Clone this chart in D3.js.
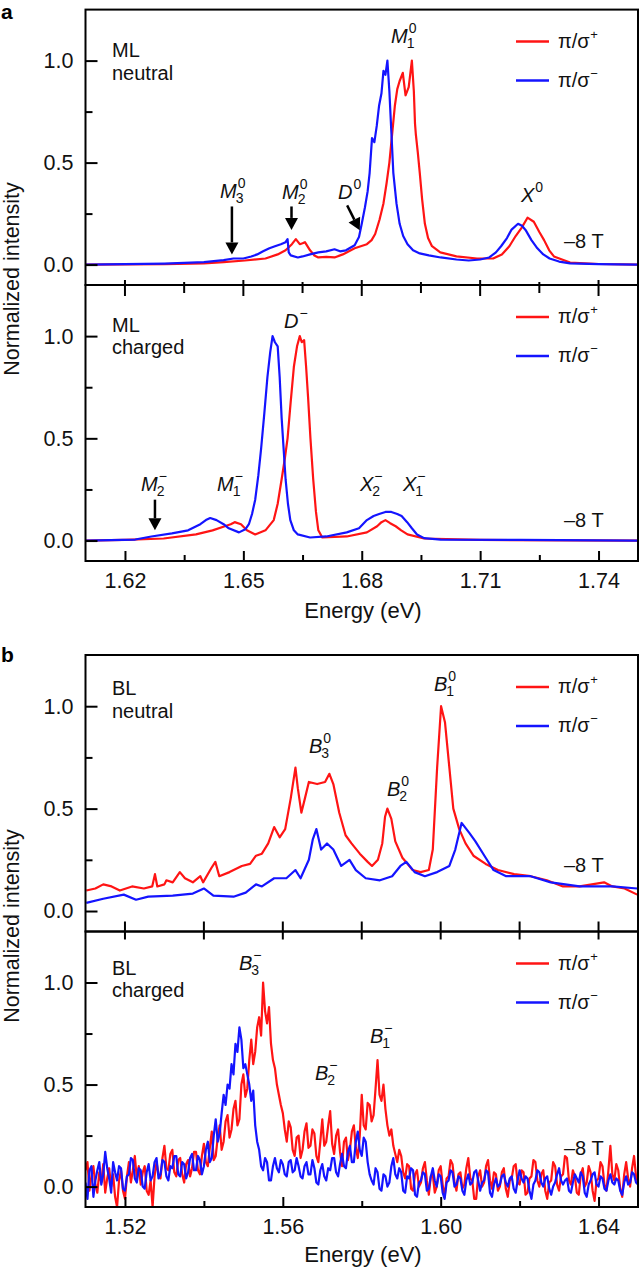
<!DOCTYPE html>
<html>
<head>
<meta charset="utf-8">
<script src="https://cdn.jsdelivr.net/npm/d3@7"></script>
<style>
  body { margin: 0; background: #fff; }
  svg { display: block; font-family: "Liberation Sans", Arial, Helvetica, sans-serif; }
</style>
</head>
<body>
<div id="chart"></div>
<script>
// ---- data: [energy (eV), normalized intensity] ----

// ML neutral
var mlNeutralPlus = [[1.610,0.0],[1.630,0.002],[1.640,0.006],[1.645,0.012],[1.6504,0.02],[1.6556,0.03],[1.6587,0.05],[1.6607,0.07],[1.6623,0.1],[1.6633,0.125],[1.6643,0.1],[1.6650,0.105],[1.6656,0.11],[1.6669,0.07],[1.668,0.045],[1.669,0.035],[1.671,0.038],[1.6731,0.035],[1.6752,0.05],[1.6782,0.08],[1.6813,0.1],[1.6825,0.12],[1.6834,0.15],[1.6845,0.22],[1.6855,0.3],[1.6863,0.4],[1.6870,0.5],[1.6877,0.64],[1.6884,0.78],[1.6890,0.86],[1.6896,0.9],[1.6904,0.94],[1.6911,0.83],[1.6919,0.87],[1.6927,1.0],[1.6932,0.85],[1.6935,0.69],[1.6937,0.64],[1.6942,0.55],[1.6947,0.45],[1.6953,0.32],[1.6960,0.2],[1.6968,0.13],[1.6978,0.09],[1.6999,0.06],[1.7040,0.04],[1.7092,0.03],[1.7133,0.03],[1.7155,0.05],[1.7174,0.09],[1.719,0.14],[1.7205,0.18],[1.7220,0.23],[1.7236,0.21],[1.7250,0.16],[1.7262,0.12],[1.7275,0.07],[1.7287,0.04],[1.7328,0.01],[1.740,0.003],[1.750,0.0]];
var mlNeutralMinus = [[1.610,0.0],[1.620,0.002],[1.630,0.005],[1.635,0.008],[1.640,0.012],[1.645,0.022],[1.6475,0.03],[1.650,0.03],[1.652,0.04],[1.6535,0.05],[1.655,0.065],[1.6566,0.08],[1.658,0.09],[1.6595,0.1],[1.6607,0.11],[1.6612,0.125],[1.6615,0.06],[1.662,0.045],[1.6638,0.035],[1.665,0.04],[1.6669,0.05],[1.669,0.06],[1.671,0.065],[1.6731,0.075],[1.6745,0.065],[1.676,0.07],[1.6782,0.095],[1.6793,0.135],[1.6800,0.2],[1.6808,0.28],[1.6815,0.36],[1.682,0.45],[1.6826,0.62],[1.6832,0.6],[1.6838,0.68],[1.6844,0.78],[1.685,0.84],[1.6855,0.95],[1.686,0.93],[1.6865,1.0],[1.687,0.85],[1.6875,0.65],[1.688,0.45],[1.6888,0.3],[1.6896,0.2],[1.6905,0.14],[1.6916,0.1],[1.693,0.07],[1.6947,0.055],[1.697,0.045],[1.700,0.035],[1.704,0.025],[1.7071,0.02],[1.710,0.025],[1.7123,0.035],[1.714,0.06],[1.7153,0.09],[1.7168,0.13],[1.7179,0.17],[1.7196,0.2],[1.7206,0.19],[1.7215,0.17],[1.7230,0.12],[1.7245,0.08],[1.726,0.05],[1.7276,0.03],[1.730,0.015],[1.7328,0.006],[1.740,0.002],[1.750,0.0]];

// ML charged
var mlChargedPlus = [[1.610,0.0],[1.620,0.003],[1.6298,0.01],[1.638,0.03],[1.6422,0.05],[1.6453,0.07],[1.6468,0.08],[1.6478,0.09],[1.6494,0.08],[1.6509,0.05],[1.6530,0.03],[1.6556,0.05],[1.6577,0.1],[1.6587,0.18],[1.6597,0.3],[1.6605,0.4],[1.6612,0.5],[1.6620,0.68],[1.6628,0.85],[1.6636,0.95],[1.6643,1.0],[1.6648,0.97],[1.6654,0.98],[1.6659,0.85],[1.6664,0.7],[1.6670,0.5],[1.6677,0.3],[1.6684,0.14],[1.6690,0.05],[1.6700,0.015],[1.6762,0.02],[1.6813,0.04],[1.6839,0.07],[1.6850,0.09],[1.6860,0.1],[1.6872,0.085],[1.6886,0.07],[1.6900,0.05],[1.6916,0.03],[1.6958,0.01],[1.710,0.003],[1.750,0.0]];
var mlChargedMinus = [[1.610,0.0],[1.6226,0.005],[1.6267,0.02],[1.6319,0.035],[1.636,0.05],[1.6391,0.08],[1.6405,0.1],[1.6416,0.11],[1.6432,0.1],[1.645,0.08],[1.6463,0.06],[1.6489,0.04],[1.6505,0.055],[1.6514,0.08],[1.6522,0.13],[1.6530,0.2],[1.6538,0.32],[1.6545,0.45],[1.6553,0.62],[1.6561,0.8],[1.6568,0.92],[1.6574,1.0],[1.6580,0.97],[1.6587,0.95],[1.6592,0.8],[1.6597,0.6],[1.6602,0.45],[1.6607,0.3],[1.6613,0.18],[1.6619,0.1],[1.6628,0.05],[1.6638,0.03],[1.6669,0.015],[1.6710,0.02],[1.6762,0.04],[1.6793,0.06],[1.6813,0.1],[1.6830,0.12],[1.6844,0.13],[1.6860,0.14],[1.6875,0.14],[1.6890,0.13],[1.6901,0.12],[1.6915,0.09],[1.6927,0.06],[1.6940,0.03],[1.6958,0.012],[1.700,0.005],[1.720,0.003],[1.750,0.0]];

// BL neutral
var blNeutralPlus = [[1.5102,0.1],[1.5125,0.11],[1.5145,0.13],[1.5166,0.12],[1.5187,0.1],[1.5218,0.12],[1.5248,0.11],[1.5269,0.12],[1.5276,0.18],[1.5282,0.12],[1.5300,0.13],[1.5305,0.15],[1.5321,0.14],[1.5339,0.19],[1.5352,0.16],[1.5372,0.14],[1.5391,0.17],[1.5398,0.14],[1.5419,0.21],[1.5429,0.24],[1.5439,0.17],[1.5465,0.19],[1.5496,0.22],[1.5517,0.23],[1.5532,0.27],[1.5547,0.28],[1.5563,0.33],[1.5578,0.41],[1.5592,0.36],[1.5606,0.4],[1.5620,0.55],[1.5632,0.70],[1.5638,0.6],[1.5647,0.48],[1.5656,0.55],[1.5666,0.63],[1.5687,0.62],[1.5707,0.63],[1.5718,0.67],[1.5728,0.62],[1.5743,0.48],[1.5759,0.37],[1.5774,0.33],[1.5795,0.28],[1.5815,0.24],[1.5826,0.22],[1.5841,0.25],[1.5852,0.33],[1.5859,0.46],[1.5865,0.5],[1.5875,0.45],[1.5885,0.34],[1.5903,0.26],[1.5929,0.2],[1.5949,0.19],[1.5970,0.2],[1.5980,0.3],[1.5991,0.7],[1.6001,1.0],[1.6011,0.92],[1.6022,0.7],[1.6032,0.5],[1.6047,0.4],[1.6063,0.33],[1.6083,0.27],[1.6114,0.23],[1.6145,0.2],[1.6186,0.18],[1.6228,0.17],[1.6269,0.15],[1.6310,0.12],[1.6352,0.12],[1.6414,0.14],[1.6435,0.12],[1.6466,0.11],[1.6498,0.08]];
var blNeutralMinus = [[1.5102,0.04],[1.5145,0.06],[1.5197,0.08],[1.5228,0.055],[1.5259,0.07],[1.5321,0.075],[1.5372,0.085],[1.5400,0.11],[1.5424,0.075],[1.5475,0.07],[1.5506,0.09],[1.5532,0.13],[1.5547,0.12],[1.5578,0.16],[1.5609,0.16],[1.5632,0.2],[1.5645,0.16],[1.5666,0.25],[1.5676,0.35],[1.5685,0.4],[1.5697,0.3],[1.5712,0.33],[1.5728,0.3],[1.5748,0.22],[1.5769,0.25],[1.5785,0.2],[1.5810,0.16],[1.5846,0.15],[1.5877,0.17],[1.5898,0.22],[1.5913,0.24],[1.5934,0.19],[1.5960,0.17],[1.5991,0.19],[1.6022,0.22],[1.6037,0.3],[1.6053,0.43],[1.6073,0.38],[1.6088,0.34],[1.6114,0.26],[1.6134,0.2],[1.6166,0.17],[1.6228,0.17],[1.6279,0.14],[1.6352,0.12],[1.6435,0.12],[1.6498,0.11]];

// BL charged (noisy, 0.5 meV sampling)
var blChargedEnergy = [
  1.5100,1.5105,1.5110,1.5115,1.5120,1.5125,1.5130,1.5135,1.5140,1.5145,
  1.5150,1.5155,1.5160,1.5165,1.5170,1.5175,1.5180,1.5185,1.5190,1.5195,
  1.5200,1.5205,1.5210,1.5215,1.5220,1.5225,1.5230,1.5235,1.5240,1.5245,
  1.5250,1.5255,1.5260,1.5265,1.5270,1.5275,1.5280,1.5285,1.5290,1.5295,
  1.5300,1.5305,1.5310,1.5315,1.5320,1.5325,1.5330,1.5335,1.5340,1.5345,
  1.5350,1.5355,1.5360,1.5365,1.5370,1.5375,1.5380,1.5385,1.5390,1.5395,
  1.5400,1.5405,1.5410,1.5415,1.5420,1.5425,1.5430,1.5435,1.5440,1.5445,
  1.5450,1.5455,1.5460,1.5465,1.5470,1.5475,1.5480,1.5485,1.5490,1.5495,
  1.5500,1.5505,1.5510,1.5515,1.5520,1.5525,1.5530,1.5535,1.5540,1.5545,
  1.5550,1.5555,1.5560,1.5565,1.5570,1.5575,1.5580,1.5585,1.5590,1.5595,
  1.5600,1.5605,1.5610,1.5615,1.5620,1.5625,1.5630,1.5635,1.5640,1.5645,
  1.5650,1.5655,1.5660,1.5665,1.5670,1.5675,1.5680,1.5685,1.5690,1.5695,
  1.5700,1.5705,1.5710,1.5715,1.5720,1.5725,1.5730,1.5735,1.5740,1.5745,
  1.5750,1.5755,1.5760,1.5765,1.5770,1.5775,1.5780,1.5785,1.5790,1.5795,
  1.5800,1.5805,1.5810,1.5815,1.5820,1.5825,1.5830,1.5835,1.5840,1.5845,
  1.5850,1.5855,1.5860,1.5865,1.5870,1.5875,1.5880,1.5885,1.5890,1.5895,
  1.5900,1.5905,1.5910,1.5915,1.5920,1.5925,1.5930,1.5935,1.5940,1.5945,
  1.5950,1.5955,1.5960,1.5965,1.5970,1.5975,1.5980,1.5985,1.5990,1.5995,
  1.6000,1.6005,1.6010,1.6015,1.6020,1.6025,1.6030,1.6035,1.6040,1.6045,
  1.6050,1.6055,1.6060,1.6065,1.6070,1.6075,1.6080,1.6085,1.6090,1.6095,
  1.6100,1.6105,1.6110,1.6115,1.6120,1.6125,1.6130,1.6135,1.6140,1.6145,
  1.6150,1.6155,1.6160,1.6165,1.6170,1.6175,1.6180,1.6185,1.6190,1.6195,
  1.6200,1.6205,1.6210,1.6215,1.6220,1.6225,1.6230,1.6235,1.6240,1.6245,
  1.6250,1.6255,1.6260,1.6265,1.6270,1.6275,1.6280,1.6285,1.6290,1.6295,
  1.6300,1.6305,1.6310,1.6315,1.6320,1.6325,1.6330,1.6335,1.6340,1.6345,
  1.6350,1.6355,1.6360,1.6365,1.6370,1.6375,1.6380,1.6385,1.6390,1.6395,
  1.6400,1.6405,1.6410,1.6415,1.6420,1.6425,1.6430,1.6435,1.6440,1.6445,
  1.6450,1.6455,1.6460,1.6465,1.6470,1.6475,1.6480,1.6485,1.6490,1.6495,
  1.6500];
var blChargedPlus = [
  0.08,0.12,-0.02,0.05,0.10,0.01,-0.03,0.07,0.02,0.11,
  -0.03,0.04,0.09,0.00,0.06,-0.05,-0.10,0.03,0.08,-0.02,
  -0.06,0.05,0.12,0.02,0.08,0.15,0.04,0.10,0.01,0.07,
  0.10,-0.02,-0.04,0.03,-0.10,0.05,0.12,0.06,0.04,0.14,
  0.20,0.09,0.08,0.16,0.18,0.07,0.05,0.13,0.14,0.06,
  0.02,0.11,0.13,0.05,0.09,0.17,0.17,0.08,0.06,0.15,
  0.21,0.12,0.10,0.19,0.27,0.13,0.15,0.24,0.30,0.18,
  0.22,0.32,0.35,0.24,0.28,0.38,0.42,0.30,0.33,0.50,
  0.55,0.44,0.48,0.62,0.72,0.60,0.66,0.78,0.83,0.74,
  1.00,0.86,0.80,0.88,0.70,0.62,0.58,0.50,0.45,0.40,
  0.36,0.28,0.22,0.32,0.29,0.18,0.15,0.24,0.25,0.14,
  0.18,0.27,0.31,0.19,0.20,0.28,0.26,0.15,0.12,0.22,
  0.33,0.20,0.22,0.30,0.37,0.21,0.16,0.25,0.28,0.17,
  0.10,0.22,0.24,0.13,0.18,0.27,0.30,0.19,0.14,0.25,
  0.45,0.30,0.28,0.41,0.40,0.32,0.35,0.48,0.62,0.45,
  0.42,0.50,0.38,0.30,0.25,0.28,0.20,0.16,0.12,0.18,
  0.15,0.07,0.04,0.11,0.10,-0.01,-0.02,0.06,0.08,0.00,
  0.02,0.09,0.12,0.03,-0.04,0.05,0.06,-0.03,0.00,0.08,
  0.10,0.01,-0.05,0.04,0.05,0.13,0.11,0.02,-0.02,0.06,
  0.07,-0.01,0.01,0.09,0.14,0.04,0.03,-0.06,-0.06,0.05,
  0.08,0.00,0.02,0.10,0.13,0.03,-0.01,0.07,0.06,-0.02,
  0.00,0.07,0.09,-0.01,-0.05,0.03,0.04,0.10,0.11,0.02,
  0.01,0.08,0.07,-0.04,-0.03,0.04,0.05,0.13,0.12,0.03,
  0.00,0.06,0.08,-0.02,-0.06,0.02,0.03,0.12,0.10,0.01,
  -0.02,0.05,0.06,0.15,0.14,0.03,0.01,0.08,0.05,-0.03,
  -0.04,0.06,0.09,0.00,0.02,0.10,0.07,-0.02,-0.07,0.03,
  0.04,0.12,0.10,0.01,-0.02,0.08,0.20,0.06,0.03,0.11,
  0.08,-0.01,-0.05,0.06,0.12,0.04,0.00,0.09,0.15,0.05,
  0.02];
var blChargedMinus = [
  0.02,-0.06,0.08,0.10,-0.05,0.03,0.08,0.12,0.01,0.06,
  0.17,0.09,0.04,-0.03,0.12,0.07,0.03,0.10,0.09,-0.01,
  -0.02,0.05,0.06,0.14,0.13,0.04,0.02,0.09,0.08,0.00,
  -0.01,0.07,0.11,0.03,0.05,0.12,0.14,0.04,0.06,0.13,
  0.12,0.05,0.03,0.10,0.09,0.15,0.15,0.06,0.05,0.12,
  0.11,0.04,0.07,0.14,0.16,0.08,0.08,0.15,0.13,0.06,
  0.10,0.18,0.22,0.12,0.14,0.25,0.33,0.22,0.26,0.36,
  0.45,0.40,0.50,0.48,0.60,0.55,0.70,0.66,0.78,0.72,
  0.58,0.60,0.55,0.50,0.42,0.47,0.30,0.22,0.18,0.10,
  0.08,0.14,0.12,0.03,0.03,0.10,0.14,0.09,0.07,0.13,
  0.11,0.06,0.05,0.12,0.13,0.07,0.08,0.14,0.10,0.05,
  0.04,0.10,0.12,0.06,0.06,0.13,0.09,0.02,0.01,0.08,
  0.11,0.05,0.03,0.09,0.08,0.14,0.14,0.07,0.05,0.11,
  0.16,0.10,0.09,0.17,0.20,0.12,0.12,0.22,0.27,0.18,
  0.15,0.24,0.22,0.12,0.06,0.03,0.01,0.09,0.07,-0.01,
  -0.02,0.06,0.05,0.00,0.02,0.10,0.14,0.06,0.04,0.09,
  0.07,-0.02,-0.03,0.05,0.04,0.09,0.08,-0.04,-0.05,0.02,
  0.03,0.07,0.06,-0.02,-0.01,0.05,0.09,0.03,0.00,0.06,
  0.05,-0.03,-0.06,0.02,0.03,0.08,0.07,0.00,0.01,0.05,
  0.04,-0.02,-0.04,0.03,0.06,0.01,0.02,0.07,0.08,0.03,
  -0.02,0.02,0.03,0.08,0.07,-0.03,-0.05,0.01,0.04,0.00,
  0.01,0.05,0.06,0.02,0.00,0.04,0.05,-0.01,-0.03,0.03,
  0.08,0.04,0.02,0.05,0.04,-0.02,-0.06,0.01,0.03,0.08,
  0.07,0.02,0.00,0.04,0.05,-0.01,-0.04,0.00,0.02,0.06,
  0.09,0.03,0.01,0.03,0.04,-0.02,-0.03,0.02,0.06,0.04,
  0.02,0.07,0.05,-0.03,-0.05,0.01,0.03,0.06,0.07,0.01,
  0.00,0.05,0.04,-0.01,-0.02,0.03,0.06,0.02,0.01,0.04,
  0.03,-0.02,-0.04,0.02,0.05,0.01,0.02,0.07,0.06,0.02,
  0.01];

// ticks
var mlEnergyTicks = [1.62, 1.65, 1.68, 1.71, 1.74];
var mlEnergyMinorTicks = [1.635, 1.665, 1.695, 1.725];
var blEnergyTicks = [1.52, 1.56, 1.60, 1.64];
var blEnergyMinorTicks = [1.54, 1.58, 1.62];
var intensityTicks = [0, 0.5, 1.0];
var intensityMinorTicks = [0.25, 0.75];
var legendSigns = ["+", "\u2212"];

var blChargedPlusPts = blChargedEnergy.map(function(e, i) { return [e, blChargedPlus[i]]; });
var blChargedMinusPts = blChargedEnergy.map(function(e, i) { return [e, blChargedMinus[i]]; });

// ---- layout ----
var W = 642, H = 1269;
var left = 85.5, right = 638;
var red = "#ff1414", blue = "#1414ff";

var svg = d3.select("#chart").append("svg")
  .attr("width", W)
  .attr("height", H)
  .style("background-color", "white");

var panels = [
  { id: "mln", top: 9.6, bottom: 285, xDomain: [1.61, 1.75], plus: mlNeutralPlus, minus: mlNeutralMinus,
    name: ["ML", "neutral"], nameY: [57, 80], fieldY: 248 },
  { id: "mlc", top: 285, bottom: 561, xDomain: [1.61, 1.75], plus: mlChargedPlus, minus: mlChargedMinus,
    name: ["ML", "charged"], nameY: [332, 354], fieldY: 527 },
  { id: "bln", top: 655, bottom: 931.5, xDomain: [1.51, 1.65], plus: blNeutralPlus, minus: blNeutralMinus,
    name: ["BL", "neutral"], nameY: [695, 718], fieldY: 872 },
  { id: "blc", top: 931.5, bottom: 1207, xDomain: [1.51, 1.65], plus: blChargedPlusPts, minus: blChargedMinusPts,
    name: ["BL", "charged"], nameY: [975, 997], fieldY: 1155 }
];

var scales = {};

function styleAxis(a) {
  a.select(".domain").remove();
  a.attr("font-size", 21.5).attr("font-family", null);
  a.selectAll("line").attr("stroke-width", 2);
  a.selectAll("text").attr("fill", "#111");
}

panels.forEach(function(p) {
  var x = d3.scaleLinear().domain(p.xDomain).range([left, right]);
  var y = d3.scaleLinear().domain([-0.1, 1.25]).range([p.bottom, p.top]);
  scales[p.id] = { x: x, y: y };

  svg.append("clipPath").attr("id", "clip-" + p.id)
    .append("rect")
    .attr("x", left).attr("y", p.top)
    .attr("width", right - left).attr("height", p.bottom - p.top);

  var line = d3.line()
    .x(function(d) { return x(d[0]); })
    .y(function(d) { return y(d[1]); });

  var g = svg.append("g");

  // spectra
  g.append("path").datum(p.plus)
    .attr("clip-path", "url(#clip-" + p.id + ")")
    .attr("fill", "none").attr("stroke", red).attr("stroke-width", 2.2)
    .attr("stroke-linejoin", "round")
    .attr("d", line);
  g.append("path").datum(p.minus)
    .attr("clip-path", "url(#clip-" + p.id + ")")
    .attr("fill", "none").attr("stroke", blue).attr("stroke-width", 2.2)
    .attr("stroke-linejoin", "round")
    .attr("d", line);

  // y axis (inward ticks)
  g.append("g").attr("transform", "translate(" + left + ",0)")
    .call(d3.axisLeft(y).tickValues(intensityTicks).tickSize(-12).tickPadding(12).tickFormat(d3.format(".1f")))
    .call(styleAxis);
  g.append("g").attr("transform", "translate(" + left + ",0)")
    .call(d3.axisLeft(y).tickValues(intensityMinorTicks).tickSize(-7).tickFormat(""))
    .call(styleAxis);

  // frame
  g.append("rect")
    .attr("x", left).attr("y", p.top)
    .attr("width", right - left).attr("height", p.bottom - p.top)
    .attr("fill", "none").attr("stroke", "#000").attr("stroke-width", 2);

  // sample label
  p.name.forEach(function(s, i) {
    g.append("text").attr("x", 112).attr("y", p.nameY[i]).attr("font-size", 20).attr("fill", "#111").text(s);
  });

  // legend
  [red, blue].forEach(function(c, i) {
    var ly = p.top + 32 + i * 39;
    g.append("line").attr("x1", 516).attr("x2", 549).attr("y1", ly).attr("y2", ly)
      .attr("stroke", c).attr("stroke-width", 2.5);
    var t = g.append("text").attr("x", 558).attr("y", ly + 6).attr("font-size", 20).attr("fill", "#111").text("\u03c0/\u03c3");
    var w = t.node().getComputedTextLength();
    g.append("text").attr("x", 558 + w + 0.5).attr("y", ly - 3).attr("font-size", 13).attr("fill", "#111").text(legendSigns[i]);
  });

  // field
  g.append("text").attr("x", 564).attr("y", p.fieldY).attr("font-size", 20).attr("fill", "#111").text("\u20138 T");
});

// x axes: shared border ticks + bottom axis
function energyAxes(lower, ticks, minor, upMajor, downMajor, upMinor, downMinor, labelY) {
  var x = scales[lower.id].x;
  var g = svg.append("g");
  var yb = lower.top;
  ticks.concat(minor).forEach(function(v, i) {
    var isMajor = i < ticks.length;
    g.append("line")
      .attr("x1", x(v)).attr("x2", x(v))
      .attr("y1", yb - (isMajor ? upMajor : upMinor))
      .attr("y2", yb + (isMajor ? downMajor : downMinor))
      .attr("stroke", "#000").attr("stroke-width", 2);
  });
  g.append("g").attr("transform", "translate(0," + lower.bottom + ")")
    .call(d3.axisBottom(x).tickValues(ticks).tickSize(-10).tickPadding(12).tickFormat(d3.format(".2f")))
    .call(styleAxis);
  g.append("g").attr("transform", "translate(0," + lower.bottom + ")")
    .call(d3.axisBottom(x).tickValues(minor).tickSize(-6).tickFormat(""))
    .call(styleAxis);
  g.append("text").attr("x", 363).attr("y", labelY).attr("text-anchor", "middle")
    .attr("font-size", 22).attr("fill", "#111").text("Energy (eV)");
}
energyAxes(panels[1], mlEnergyTicks, mlEnergyMinorTicks, 5, 11, 3, 8, 618);
energyAxes(panels[3], blEnergyTicks, blEnergyMinorTicks, 10, 8, 10, 8, 1262);

// y titles
[279, 926].forEach(function(cy) {
  svg.append("text")
    .attr("transform", "translate(19," + cy + ") rotate(-90)")
    .attr("text-anchor", "middle").attr("font-size", 21.5).attr("fill", "#111")
    .text("Normalized intensity");
});

// panel letters
svg.append("text").attr("x", 1).attr("y", 19).attr("font-size", 21).attr("font-weight", "bold").text("a");
svg.append("text").attr("x", 1).attr("y", 662).attr("font-size", 21).attr("font-weight", "bold").text("b");

// peak labels: italic letter with stacked sub/superscript
function peakLabel(x, y, main, sub, sup) {
  var t = svg.append("text").attr("x", x).attr("y", y).attr("font-size", 20)
    .attr("font-style", "italic").attr("fill", "#111").text(main);
  var w = t.node().getComputedTextLength();
  if (sup) svg.append("text").attr("x", x + w + 1).attr("y", y - 10).attr("font-size", 14).attr("fill", "#111").text(sup);
  if (sub) svg.append("text").attr("x", x + w - 1).attr("y", y + 5).attr("font-size", 14).attr("fill", "#111").text(sub);
}
var minus = "\u2212";
peakLabel(391, 43, "M", "1", "0");
peakLabel(220, 198, "M", "3", "0");
peakLabel(282, 199, "M", "2", "0");
peakLabel(338, 199, "D", null, "0");
peakLabel(521, 202, "X", null, "0");
peakLabel(284, 328, "D", null, minus);
peakLabel(141, 491, "M", "2", minus);
peakLabel(217, 491, "M", "1", minus);
peakLabel(360, 491, "X", "2", minus);
peakLabel(403, 491, "X", "1", minus);
peakLabel(434, 691, "B", "1", "0");
peakLabel(309, 753, "B", "3", "0");
peakLabel(387, 796, "B", "2", "0");
peakLabel(239, 970, "B", "3", minus);
peakLabel(370, 1043, "B", "1", minus);
peakLabel(315, 1080, "B", "2", minus);

// arrows pointing at weak features (data coordinates)
function arrow(s, e1, v1, e2, v2) {
  var x1 = s.x(e1), y1 = s.y(v1), x2 = s.x(e2), y2 = s.y(v2);
  var dx = x2 - x1, dy = y2 - y1, len = Math.sqrt(dx * dx + dy * dy);
  var ux = dx / len, uy = dy / len, hl = 12, hw = 6.5;
  var bx = x2 - ux * hl, by = y2 - uy * hl;
  svg.append("line").attr("x1", x1).attr("y1", y1).attr("x2", bx).attr("y2", by)
    .attr("stroke", "#000").attr("stroke-width", 2.5);
  svg.append("path")
    .attr("d", "M" + x2 + "," + y2 + "L" + (bx - uy * hw) + "," + (by + ux * hw) + "L" + (bx + uy * hw) + "," + (by - ux * hw) + "Z")
    .attr("fill", "#000");
}
arrow(scales.mln, 1.6471, 0.285, 1.6471, 0.05);
arrow(scales.mln, 1.6622, 0.285, 1.6622, 0.17);
arrow(scales.mln, 1.6763, 0.29, 1.6795, 0.168);
arrow(scales.mlc, 1.6276, 0.20, 1.6276, 0.05);
</script>
</body>
</html>
